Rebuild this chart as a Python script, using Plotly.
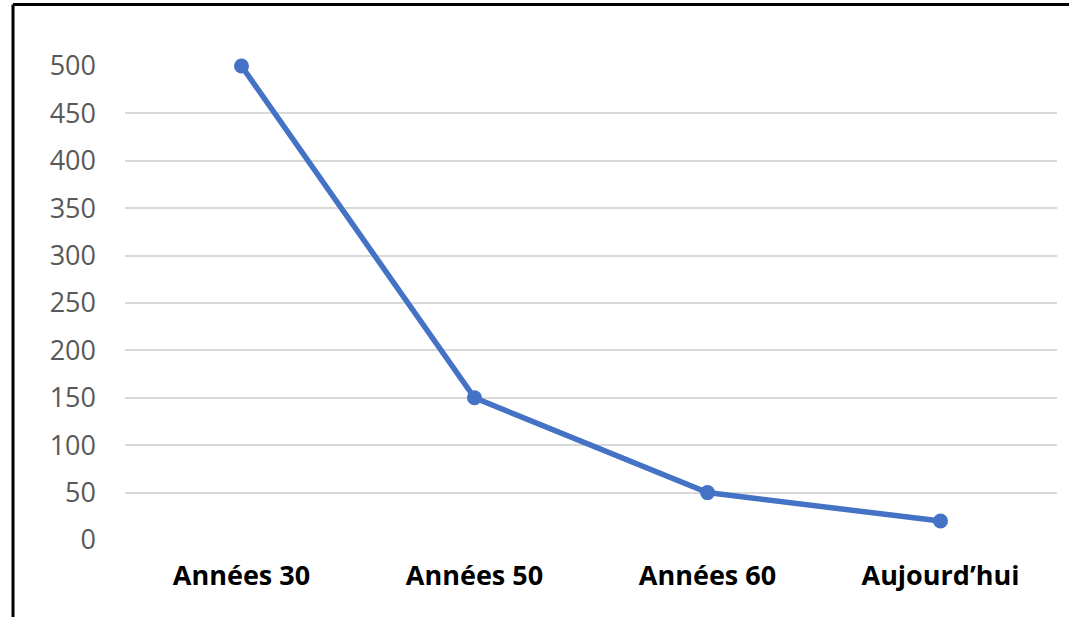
import plotly.graph_objects as go

# Data
periods = ["Années 30", "Années 50", "Années 60", "Aujourd’hui"]
values = [500, 150, 50, 20]
y_ticks = [0, 50, 100, 150, 200, 250, 300, 350, 400, 450, 500]

W, H = 1069, 617
ML, MR, MT, MB = 125, 12, 66, 77
plot_w = W - ML - MR
plot_h = H - MT - MB

fig = go.Figure()
fig.add_trace(go.Scatter(
    x=periods, y=values, mode="lines+markers",
    line=dict(color="#4472C4", width=5.5),
    marker=dict(color="#4472C4", size=15),
    showlegend=False,
    cliponaxis=False,
))

# outer frame (left and top edges)
left_px, top_px = 13, 4.5
fx = (left_px - ML) / plot_w
fy = (H - MB - top_px) / plot_h
fig.add_shape(type="line", xref="paper", yref="paper",
              x0=fx, x1=1.2, y0=fy, y1=fy, line=dict(color="black", width=3))
fig.add_shape(type="line", xref="paper", yref="paper",
              x0=fx, x1=fx, y0=fy, y1=-0.3, line=dict(color="black", width=3))

fig.update_layout(
    width=W, height=H,
    margin=dict(l=ML, r=MR, t=MT, b=MB),
    plot_bgcolor="white", paper_bgcolor="white",
    font=dict(family="Open Sans, sans-serif"),
    xaxis=dict(
        type="category", range=[-0.5, 3.5],
        showgrid=False, showline=False, zeroline=False,
        tickfont=dict(size=27, color="black", family="Open Sans, sans-serif", weight="bold"),
        ticks="", ticklabelstandoff=17,
    ),
    yaxis=dict(
        range=[0, 500], tickvals=y_ticks,
        showgrid=True, gridcolor="#D9D9D9", gridwidth=1.5,
        zeroline=False, showline=False,
        tickfont=dict(size=27, color="#595959", family="Open Sans, sans-serif"),
        ticks="", ticklabelstandoff=28,
    ),
)

fig.write_html("out.html")
